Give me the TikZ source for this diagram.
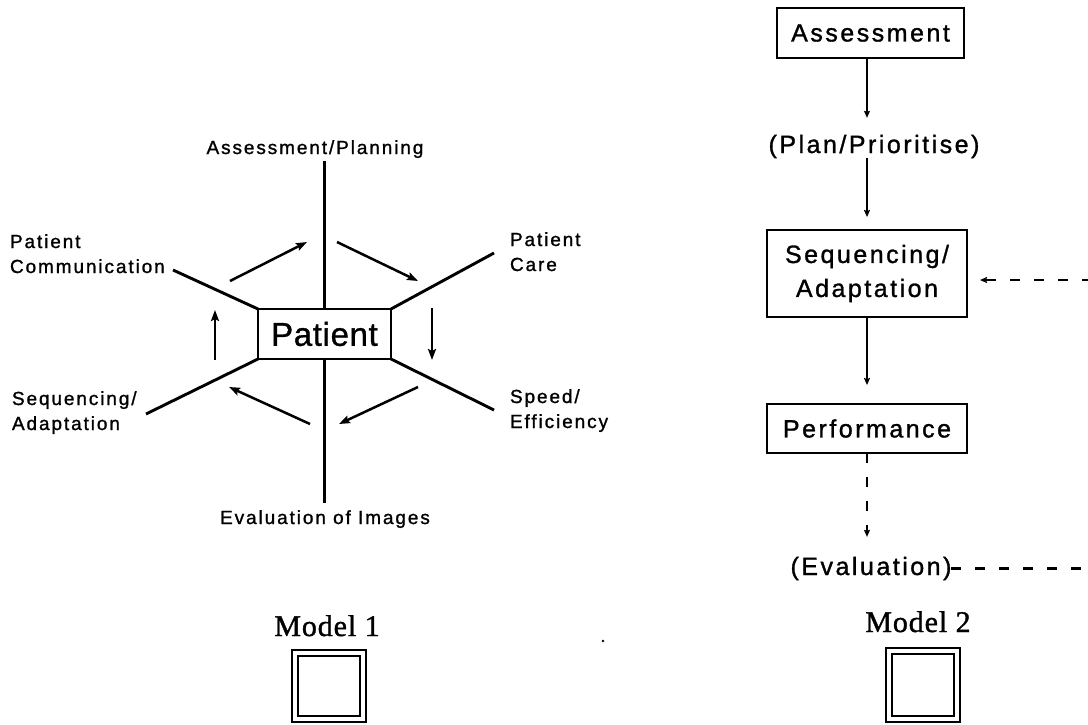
\documentclass[tikz,border=0pt]{standalone}
\usepackage{fontspec}
\usetikzlibrary{arrows.meta}
\newfontfamily\lblfont[LetterSpace=10,FakeBold=1.2]{Liberation Sans}
\newfontfamily\ctrfont[LetterSpace=2,FakeBold=1]{Liberation Sans}
\newfontfamily\ttlfont[LetterSpace=3,FakeBold=1.2]{Liberation Serif}

\begin{document}
\begin{tikzpicture}[x=1pt,y=-1pt,
  every node/.style={inner sep=0pt, outer sep=0pt},
  lbl/.style={font={\lblfont\fontsize{19}{25}\selectfont}, anchor=base west},
  lblc/.style={font={\lblfont\fontsize{19}{25}\selectfont}, anchor=base},
  txt2/.style={font={\lblfont\fontsize{25}{34}\selectfont}, anchor=base},
  box2/.style={draw, line width=2.2pt, font={\lblfont\fontsize{25}{34}\selectfont}, align=center},
  spoke/.style={line width=2.9pt},
  cyc/.style={line width=2.5pt, -{Stealth[length=11pt,width=8pt,inset=2pt]}},
  arr2/.style={line width=2.2pt, -{Stealth[length=7pt,width=6pt,inset=1pt]}},
  dash2/.style={line width=2.2pt, dash pattern=on 10pt off 14pt},
  ttl/.style={font={\ttlfont\fontsize{30}{32}\selectfont}, anchor=base}
]
\useasboundingbox (0,0) rectangle (1088,724);

% ---------------- Model 1: activities round the patient ----------------
\node[draw, line width=2.6pt, minimum width=133pt, minimum height=50pt,
      font={\ctrfont\fontsize{33}{36}\selectfont}] (pat) at (324.5,334) {Patient};

\node[lblc] (ap) at (315,154) {Assessment/Planning};
\node[lblc] (ev) at (325,524) {Evaluation of Images};
\node[lbl] (pcA) at (10,248) {Patient};
\node[lbl] (pcB) at (10,273) {Communication};
\node[lbl] (pkA) at (510,246) {Patient};
\node[lbl] (pkB) at (510,271) {Care};
\node[lbl] (sqA) at (12,405) {Sequencing/};
\node[lbl] (sqB) at (12,430) {Adaptation};
\node[lbl] (spA) at (510,403) {Speed/};
\node[lbl] (spB) at (510,428) {Efficiency};

% spoke ends
\coordinate (vT) at (324.5,161);
\coordinate (vB) at (324.5,503);
\coordinate (sTL) at (173,270);
\coordinate (sTR) at (494,253);
\coordinate (sBR) at (494,410);
\coordinate (sBL) at (146,414);

\draw[spoke] (vT) -- (pat.north);
\draw[spoke] (pat.south) -- (vB);
\draw[spoke] (pat.north west) -- (sTL);
\draw[spoke] (pat.north east) -- (sTR);
\draw[spoke] (pat.south east) -- (sBR);
\draw[spoke] (pat.south west) -- (sBL);

% clockwise cycle arrows
\coordinate (a1s) at (230,281); \coordinate (a1e) at (307,242);
\coordinate (a2s) at (337,242); \coordinate (a2e) at (418,281);
\coordinate (a3s) at (432,308); \coordinate (a3e) at (432,360);
\coordinate (a4s) at (418,387); \coordinate (a4e) at (339,424);
\coordinate (a5s) at (310,424); \coordinate (a5e) at (229,387);
\coordinate (a6s) at (215,360); \coordinate (a6e) at (215,310);
\draw[cyc] (a1s) -- (a1e);
\draw[cyc] (a2s) -- (a2e);
\draw[cyc] (a3s) -- (a3e);
\draw[cyc] (a4s) -- (a4e);
\draw[cyc] (a5s) -- (a5e);
\draw[cyc] (a6s) -- (a6e);

% ---------------- Model 2: sequence with feedback ----------------
\node[box2, minimum width=187pt, minimum height=50pt] (as) at (870.5,33) {Assessment};
\node[txt2] (pl) at (874,153) {(Plan/Prioritise)};
\node[box2, minimum width=200pt, minimum height=87pt] (sq) at (867,273.5) {Sequencing/\\Adaptation};
\node[box2, minimum width=200pt, minimum height=49pt] (pf) at (867,428.5) {Performance};
\node[txt2] (ev2) at (871,575) {(Evaluation)};

\draw[arr2, shorten >=17pt] (as.south -| sq.north) -- (pl.north -| sq.north);
\draw[arr2, shorten >=13pt] (pl.south -| sq.north) -- (sq.north);
\draw[arr2, shorten >=19pt] (sq.south) -- (pf.north);
\draw[arr2, dash2, shorten >=20pt] (pf.south) -- (ev2.north -| pf.south);

\coordinate (eR) at (1092,567);
\coordinate (fR) at (1092,280);
\draw[dash2] (ev2.east) -- (ev2.east -| eR);
\draw[arr2, dash2, shorten >=13pt] (fR) -- (sq.east |- fR);

% ---------------- titles and symbols ----------------
\node[ttl] (m1) at (327,636) {Model 1};
\node[ttl] (m2) at (918,632) {Model 2};

\draw[line width=2.8pt] (292,650) rectangle (366,722);
\draw[line width=2.2pt] (298,656) rectangle (360,716);
\draw[line width=2.8pt] (886,648) rectangle (960,722);
\draw[line width=2.2pt] (892,654) rectangle (954,716);

\fill (603,641) circle (1.4pt);
\end{tikzpicture}
\end{document}
